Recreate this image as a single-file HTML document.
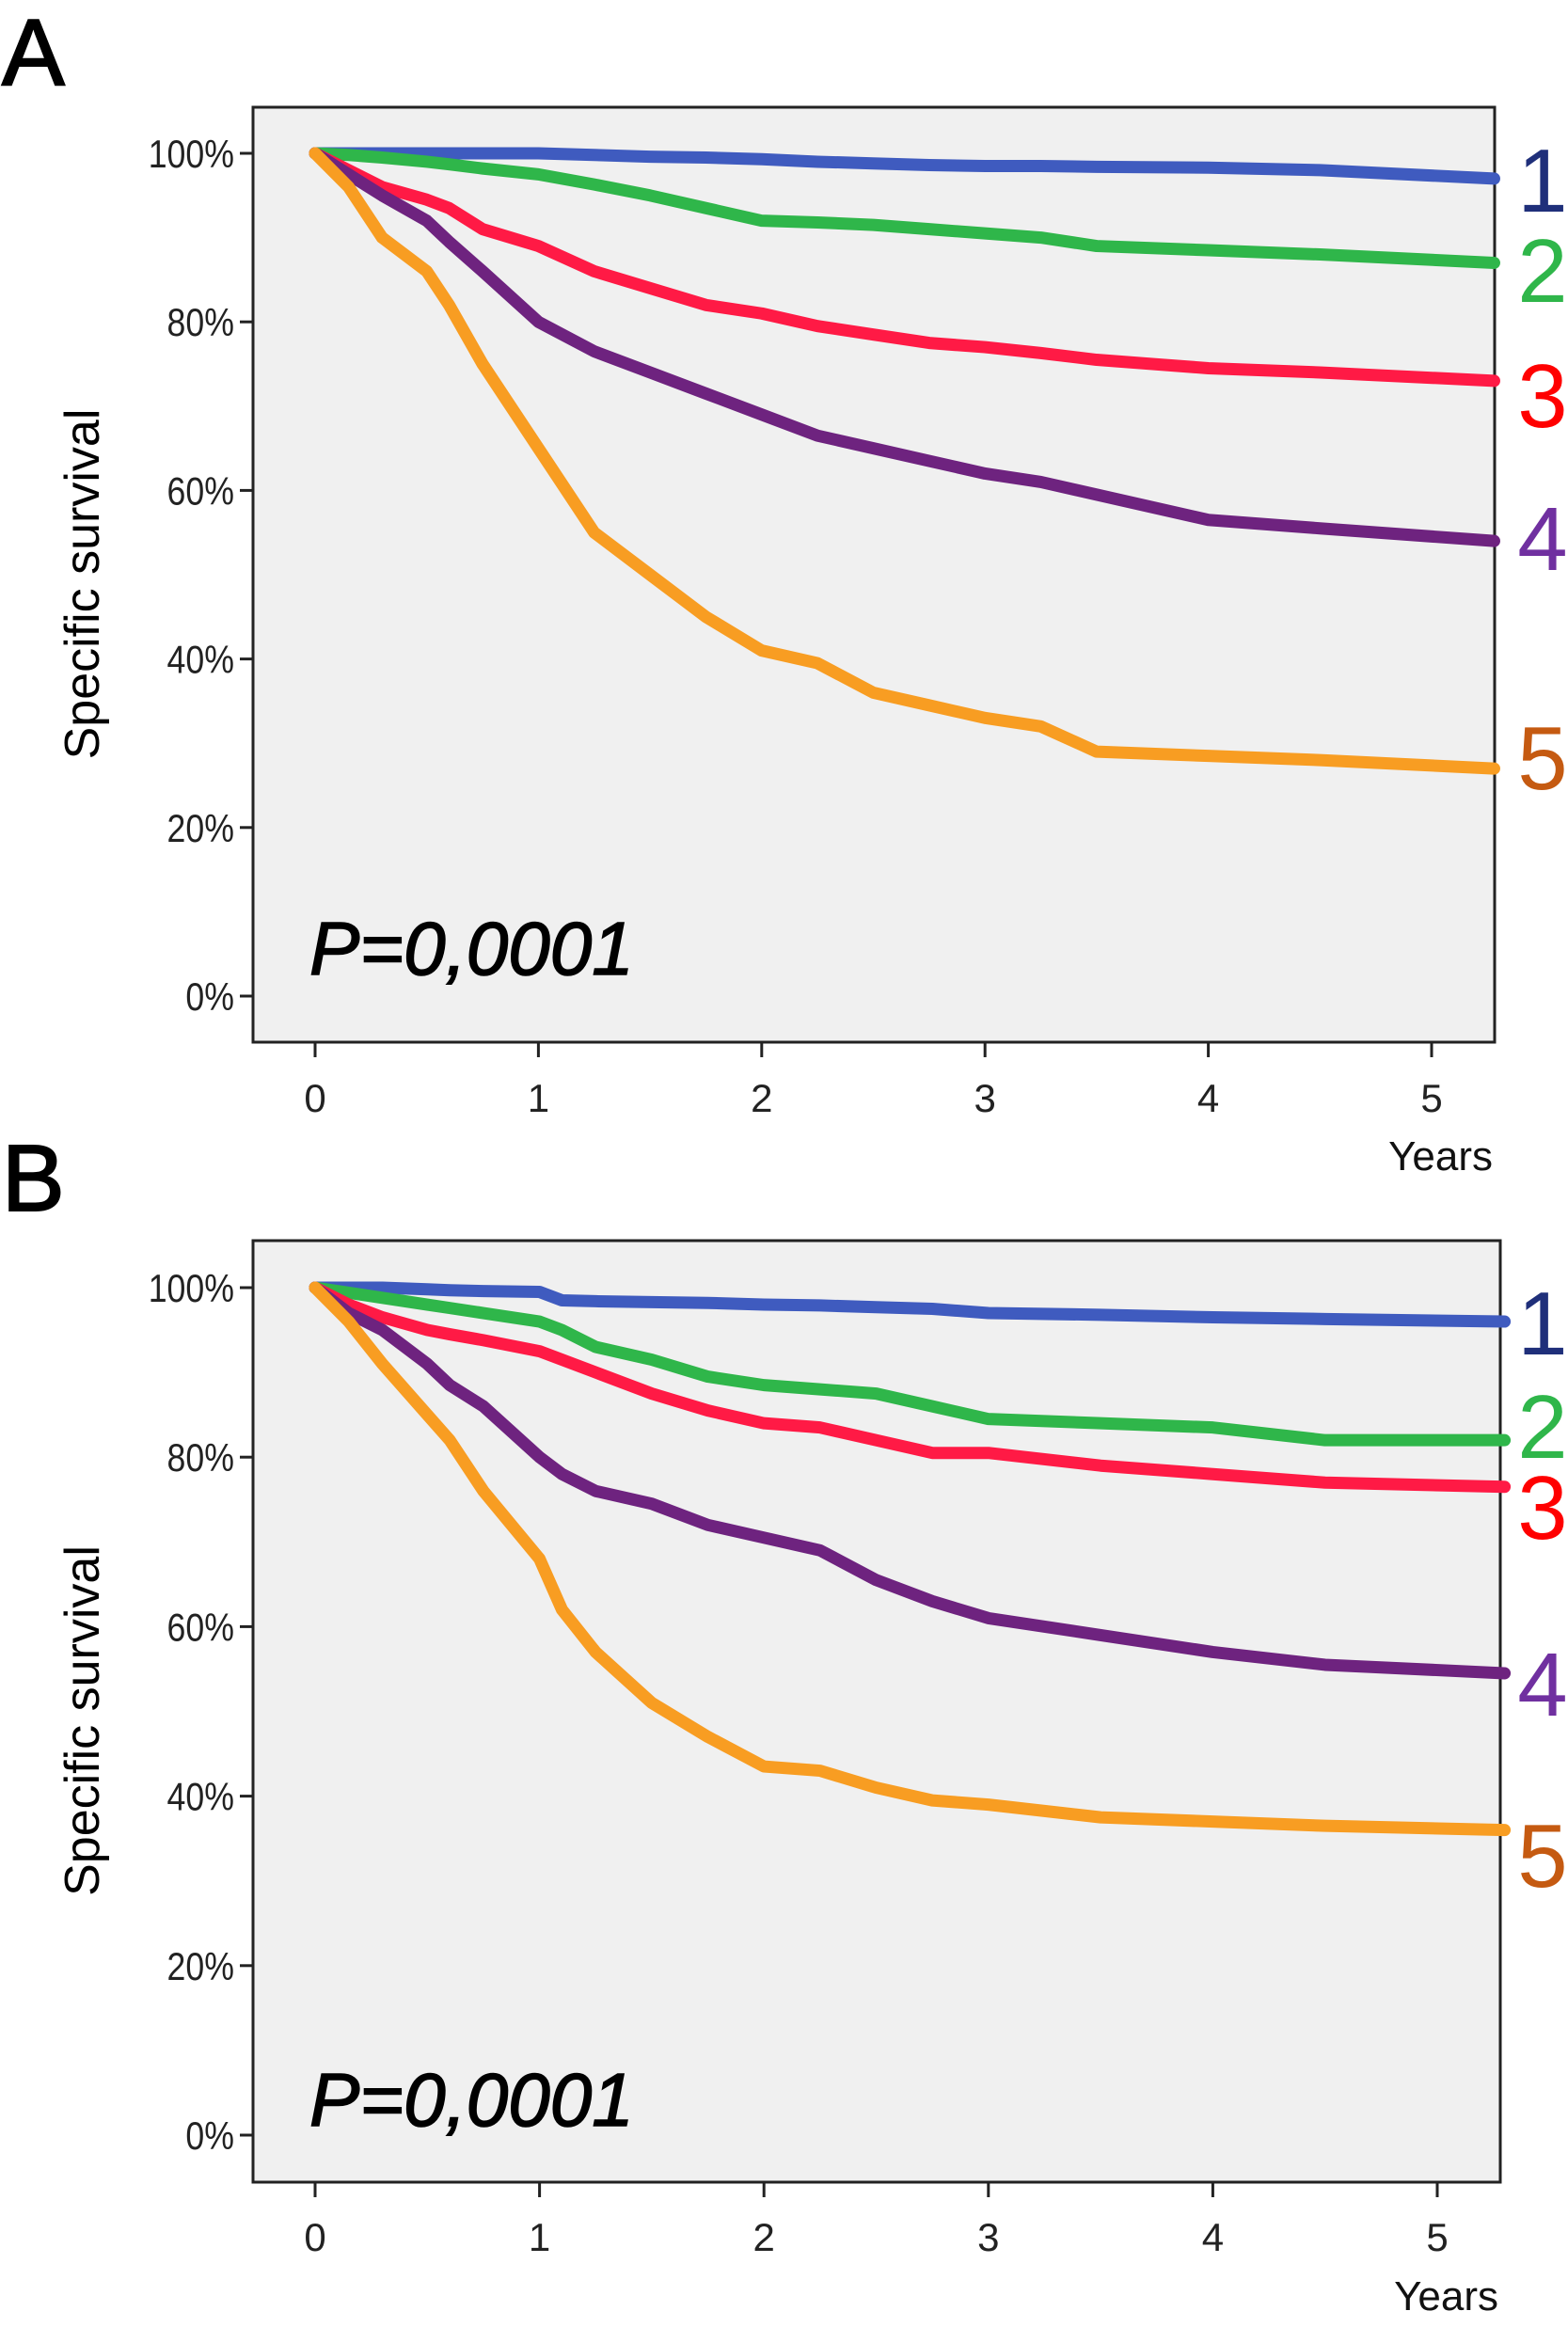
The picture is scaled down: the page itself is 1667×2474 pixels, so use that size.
<!DOCTYPE html>
<html><head><meta charset="utf-8"><style>
html,body{margin:0;padding:0;background:#fff}
svg{display:block}
text{font-family:"Liberation Sans",sans-serif}
</style></head><body>
<svg id="fig" width="1667" height="2474" viewBox="0 0 1667 2474" xmlns="http://www.w3.org/2000/svg"></svg>
<script>
const yearsA = [0,0.15,0.3,0.5,0.6,0.75,1,1.25,1.5,1.75,2,2.25,2.5,2.75,3,3.25,3.5,4,4.5,5.28];
const aBlue   = [100,100,100,100,100,100,100,99.8,99.6,99.5,99.3,99,98.8,98.6,98.5,98.5,98.4,98.3,98,97];
const aGreen  = [100,99.8,99.5,99,98.7,98.2,97.5,96.3,95,93.5,92,91.8,91.5,91,90.5,90,89,88.5,88,87];
const aRed    = [100,98,96,94.5,93.5,91,89,86,84,82,81,79.5,78.5,77.5,77,76.3,75.5,74.5,74,73];
const aPurple = [100,97.5,95,92,89.5,86,80,76.5,74,71.5,69,66.5,65,63.5,62,61,59.5,56.5,55.5,54];
const aOrange = [100,96,90,86,82,75,65,55,50,45,41,39.5,36,34.5,33,32,29,28.5,28,27];
const yearsB = [0,0.15,0.3,0.5,0.6,0.75,1,1.1,1.25,1.5,1.75,2,2.25,2.5,2.75,3,3.5,4,4.5,5.3];
const bBlue   = [100,100,100,99.8,99.7,99.6,99.5,98.5,98.4,98.3,98.2,98,97.9,97.7,97.5,97,96.8,96.5,96.3,96];
const bGreen  = [100,99.4,98.8,98,97.6,97,96,95,93,91.5,89.5,88.5,88,87.5,86,84.5,84,83.5,82,82];
const bRed    = [100,98,96.5,95,94.5,93.8,92.5,91.5,90,87.5,85.5,84,83.5,82,80.5,80.5,79,78,77,76.5];
const bPurple = [100,97,95,91,88.5,86,80,78,76,74.5,72,70.5,69,65.5,63,61,59,57,55.5,54.5];
const bOrange = [100,96,91,85,82,76,68,62,57,51,47,43.5,43,41,39.5,39,37.5,37,36.5,36];
const yTicks = ["0%","20%","40%","60%","80%","100%"];
const xTicks = ["0","1","2","3","4","5"];
const groupLabels = ["1","2","3","4","5"];

const NS="http://www.w3.org/2000/svg";
const svg=document.getElementById('fig');
function el(tag,attrs,parent){const e=document.createElementNS(NS,tag);for(const k in attrs)e.setAttribute(k,attrs[k]);(parent||svg).appendChild(e);return e;}

const colors=["#3f5bbf","#2fb64a","#ff1a45","#6e237f","#f89d22"];
const labelColors=["#1f2f7a","#2fb64a","#ff0000","#7030a0","#c55a11"];

function panel(cfg){
  const g=el('g',{});
  
  
  const xs=v=>cfg.x0+(cfg.x5-cfg.x0)*v/5;
  const ys=v=>cfg.y0+(cfg.y100-cfg.y0)*v/100;
  const t=el('text',{x:2,y:cfg.letterY,'font-size':100,fill:'#000',stroke:'#000','stroke-width':2},g);t.textContent=cfg.id;
  
  
  const r=el('rect',{x:cfg.L,y:cfg.T,width:cfg.R-cfg.L,height:cfg.B-cfg.T,fill:'#f0f0f0',stroke:'#222','stroke-width':3},g);
  
  
  yTicks.forEach((lab,i)=>{
    const y=ys(i*20);
    const tk=el('line',{x1:cfg.L-14,x2:cfg.L,y1:y,y2:y,stroke:'#222','stroke-width':3},g);
    
    
    const tx=el('text',{x:cfg.L-20,y:y+15,'font-size':42,'text-anchor':'end',fill:'#222',transform:`translate(${cfg.L-20} 0) scale(0.85 1) translate(${-(cfg.L-20)} 0)`},g);
    tx.textContent=lab;
    
    
  });
  xTicks.forEach((lab,i)=>{
    const x=xs(i);
    const tk=el('line',{x1:x,x2:x,y1:cfg.B,y2:cfg.B+16,stroke:'#222','stroke-width':3},g);
    
    
    const tx=el('text',{x:x,y:cfg.xLabY,'font-size':42,'text-anchor':'middle',fill:'#222'},g);
    tx.textContent=lab;
    
    
  });
  const yr=el('text',{x:cfg.R-2,y:cfg.yearsY,'font-size':44,'text-anchor':'end',fill:'#111'},g);
  yr.textContent='Years';
  
  
  const cy=(cfg.T+cfg.B)/2+10;
  const yt=el('text',{x:0,y:0,'font-size':52,'text-anchor':'middle',fill:'#000',transform:`translate(${cfg.titleX} ${cy}) rotate(-90)`},g);
  yt.textContent='Specific survival';
  
  
  cfg.series.forEach((vals,si)=>{
    let d='';
    cfg.years.forEach((t,i)=>{
      const x=xs(t),y=ys(vals[i]);
      d+=(i===0?'M':'L')+x+','+y;
    });
    const p=el('path',{d:d,fill:'none',stroke:colors[si],'stroke-width':13,'stroke-linejoin':'round','stroke-linecap':'round'},g);
    
    
  });
  const pv=el('text',{x:cfg.L+60,y:cfg.pY,'font-size':80,'font-style':'italic',fill:'#000',stroke:'#000','stroke-width':1.5},g);
  pv.textContent='P=0,0001';
  
  
  groupLabels.forEach((lab,i)=>{
    const tx=el('text',{x:1640,y:cfg.labY[i]+34,'font-size':96,'text-anchor':'middle',fill:labelColors[i]},g);
    tx.textContent=lab;
    
    
  });
}

panel({id:'A',L:269,T:114,R:1589,B:1108,x0:335,x5:1522,y0:1059,y100:163,letterY:90,xLabY:1182,yearsY:1244,titleX:105,pY:1036,
  years:yearsA,series:[aBlue,aGreen,aRed,aPurple,aOrange],labY:[191,287,420,572,805]});
panel({id:'B',L:269,T:1319,R:1595,B:2320,x0:335,x5:1528,y0:2270,y100:1369,letterY:1287,xLabY:2393,yearsY:2456,titleX:105,pY:2260,
  years:yearsB,series:[bBlue,bGreen,bRed,bPurple,bOrange],labY:[1406,1516,1602,1790,1972]});
</script>
</body></html>
